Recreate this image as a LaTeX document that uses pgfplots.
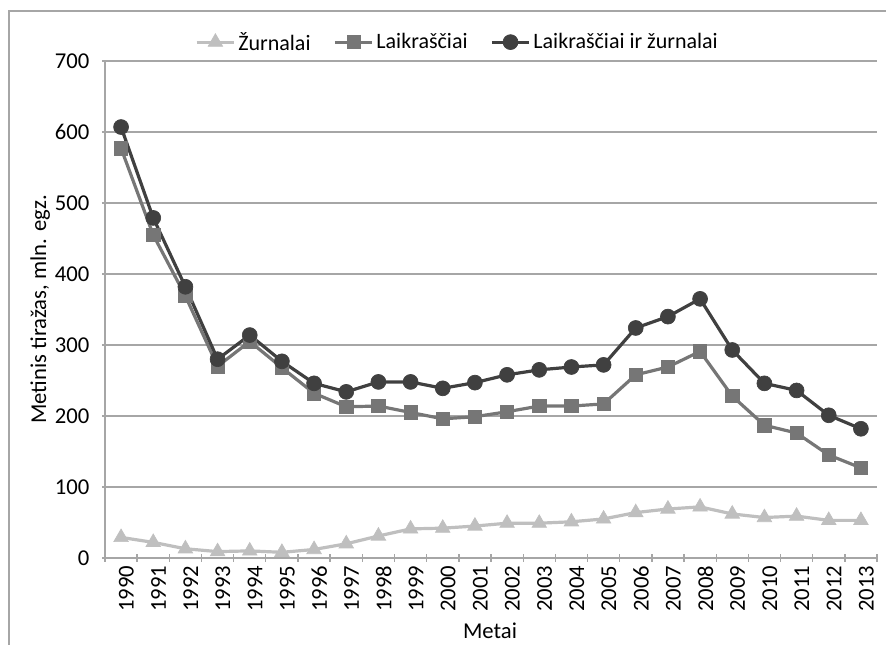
\documentclass[border=0pt]{standalone}
\usepackage{fontspec}
\setmainfont{Carlito}
\usepackage{pgfplots}
\pgfplotsset{compat=1.18}
\definecolor{cmag}{RGB}{191,191,191}
\definecolor{cnews}{RGB}{118,118,118}
\definecolor{ctot}{RGB}{64,64,64}
\definecolor{cgrid}{RGB}{166,166,166}
\begin{document}
\begin{tikzpicture}
\path[use as bounding box] (-78.75pt,-65.25pt) rectangle (585.75pt,418.5pt);
\draw[cgrid,line width=0.8pt] (-72pt,-65.25pt) -- (-72pt,410.25pt) -- (585.75pt,410.25pt);
\begin{axis}[
  at={(0pt,0pt)}, anchor=south west,
  scale only axis, width=579pt, height=372.75pt,
  xmin=-0.5, xmax=23.5, ymin=0, ymax=700,
  ytick={0,100,...,700},
  xtick={0,...,23},
  xticklabels={1990,1991,1992,1993,1994,1995,1996,1997,1998,1999,2000,2001,2002,2003,2004,2005,2006,2007,2008,2009,2010,2011,2012,2013},
  minor xtick={-0.5,0.5,...,23.5},
  major x tick style={draw=none},
  tick align=outside,
  major tick length=4.5pt, minor tick length=5.5pt,
  tick style={cgrid, line width=1pt},
  axis x line=bottom, axis y line=left,
  axis line style={-, cgrid, line width=1.1pt},
  ymajorgrids, grid style={cgrid, line width=1.1pt},
  ticklabel style={font=\fontsize{17}{20}\selectfont, text=black},
  yticklabel style={xshift=-6pt},
  xticklabel style={rotate=90, anchor=east, yshift=-4pt},
  /pgf/number format/assume math mode=true,
  xlabel={Metai}, ylabel={Metinis tiražas, mln. egz.},
  every axis x label/.style={at={(axis description cs:0.4987,-0.147)}, anchor=center, font=\fontsize{17}{20}\selectfont},
  every axis y label/.style={at={(axis description cs:-0.084,0.5)}, rotate=90, anchor=center, font=\fontsize{17}{20}\selectfont},
  legend columns=3,
  legend style={draw=none, fill=none, at={(0.457,1.038)}, anchor=center, font=\fontsize{16.5}{19}\selectfont,
    /tikz/every even column/.append style={column sep=15pt},
    /tikz/every odd column/.append style={column sep=0pt}},
  legend cell align=left,
  legend image code/.code={\draw[mark repeat=2,mark phase=2,#1] plot coordinates {(0pt,0pt)(14pt,0pt)(28pt,0pt)};},
  clip=false,
]
\addplot[cmag, line width=2.4pt, mark=triangle*, mark size=6.3pt, mark options={fill=cmag, draw=cmag, line width=0.5pt}] coordinates {
(0,29)(1,22)(2,13)(3,9)(4,10)(5,8)(6,12)(7,20)(8,31)(9,41)(10,42)(11,45)(12,49)(13,49)(14,51)(15,55)(16,64)(17,69)(18,72)(19,62)(20,57)(21,59)(22,53)(23,53)};
\addlegendentry{Žurnalai}
\addplot[cnews, line width=2.4pt, mark=square*, mark size=5pt, mark options={fill=cnews, draw=cnews, line width=0.5pt}] coordinates {
(0,577)(1,455)(2,369)(3,270)(4,305)(5,268)(6,232)(7,213)(8,214)(9,205)(10,196)(11,199)(12,206)(13,214)(14,214)(15,217)(16,258)(17,269)(18,291)(19,228)(20,187)(21,176)(22,145)(23,127)};
\addlegendentry{Laikraščiai}
\addplot[ctot, line width=2.4pt, mark=*, mark size=5.6pt, mark options={fill=ctot, draw=ctot, line width=0.5pt}] coordinates {
(0,607)(1,479)(2,382)(3,280)(4,314)(5,277)(6,246)(7,234)(8,248)(9,248)(10,239)(11,247)(12,258)(13,265)(14,269)(15,272)(16,324)(17,340)(18,365)(19,293)(20,246)(21,236)(22,201)(23,182)};
\addlegendentry{Laikraščiai ir žurnalai}
\end{axis}
\end{tikzpicture}
\end{document}
